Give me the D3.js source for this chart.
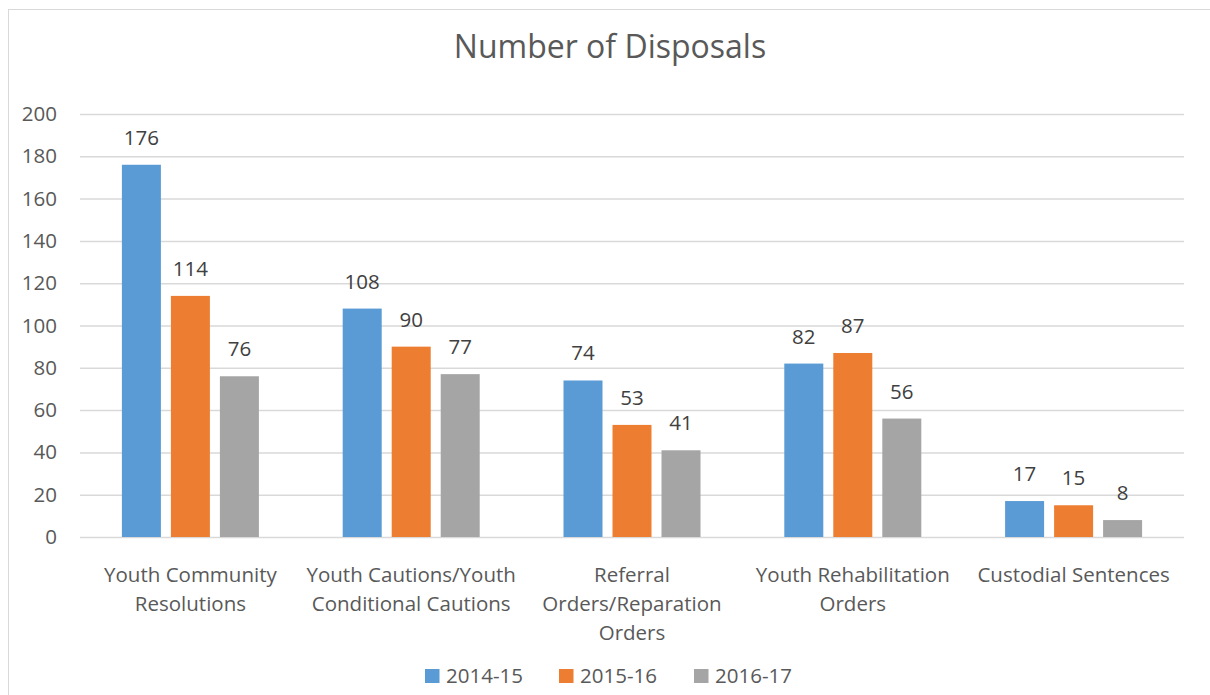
<!DOCTYPE html>
<html><head><meta charset="utf-8">
<script src="https://cdn.jsdelivr.net/npm/d3@7"></script>
<style>html,body{margin:0;padding:0;background:#fff;}svg{display:block;font-family:"Open Sans","Noto Sans",sans-serif;}</style>
</head><body>
<svg id="c" width="1210" height="695"></svg>
<script>
const categories = [
  ["Youth Community","Resolutions"],
  ["Youth Cautions/Youth","Conditional Cautions"],
  ["Referral","Orders/Reparation","Orders"],
  ["Youth Rehabilitation","Orders"],
  ["Custodial Sentences"]
];
const seriesNames = ["2014-15","2015-16","2016-17"];
const s2014 = [176,108,74,82,17];
const s2015 = [114,90,53,87,15];
const s2016 = [76,77,41,56,8];
const yTicks = [0,20,40,60,80,100,120,140,160,180,200];
const colors = ["#5b9bd5","#ed7d31","#a5a5a5"];
const series = [s2014,s2015,s2016];

const svg = d3.select("#c");
const mLeft=80, mRight=1184, mTop=114, mBottom=537;

svg.append("rect").attr("x",8.5).attr("y",9.5).attr("width",1210).attr("height",700)
  .attr("fill","#fff").attr("stroke","#d9d9d9").attr("stroke-width",1);

svg.append("text").attr("x",610).attr("y",58).attr("text-anchor","middle")
  .attr("fill","#595959").attr("font-size",32).text("Number of Disposals");

const x0 = d3.scaleBand().domain(d3.range(categories.length)).range([mLeft,mRight]).paddingInner(0).paddingOuter(0);
const x1 = d3.scaleBand().domain(d3.range(3)).range([0,x0.bandwidth()]).paddingInner(0.204).paddingOuter(0.855);
const y = d3.scaleLinear().domain([0,200]).range([mBottom,mTop]);

const yAxis = svg.append("g").attr("transform",`translate(${mLeft},0)`)
  .call(d3.axisLeft(y).tickValues(yTicks).tickSize(-(mRight-mLeft)).tickPadding(23));
yAxis.select(".domain").remove();
yAxis.selectAll(".tick line").attr("stroke","#d9d9d9").attr("stroke-width",1.5);
yAxis.selectAll(".tick text").attr("fill","#595959").attr("font-size",20.5).attr("font-family","'Open Sans',sans-serif");

const groups = svg.append("g").selectAll("g").data(categories).join("g")
  .attr("transform",(d,i)=>`translate(${x0(i)},0)`);

series.forEach((s,si)=>{
  groups.append("rect")
    .attr("x",x1(si)).attr("width",x1.bandwidth())
    .attr("y",(d,i)=>y(s[i])).attr("height",(d,i)=>mBottom-y(s[i]))
    .attr("fill",colors[si]);
  groups.append("text")
    .attr("x",x1(si)+x1.bandwidth()/2).attr("y",(d,i)=>y(s[i])-20)
    .attr("text-anchor","middle").attr("fill","#404040").attr("font-size",20.5)
    .text((d,i)=>s[i]);
});

groups.each(function(lines,i){
  const g=d3.select(this);
  lines.forEach((ln,k)=>{
    g.append("text").attr("x",x0.bandwidth()/2).attr("y",582+k*29)
      .attr("text-anchor","middle").attr("fill","#595959").attr("font-size",20.5).text(ln);
  });
});

const legend = svg.append("g");
const lx=[425,559,694];
seriesNames.forEach((n,i)=>{
  legend.append("rect").attr("x",lx[i]).attr("y",669).attr("width",14.5).attr("height",14).attr("fill",colors[i]);
  legend.append("text").attr("x",lx[i]+21).attr("y",683).attr("fill","#595959").attr("font-size",20.5).text(n);
});
</script>
</body></html>
